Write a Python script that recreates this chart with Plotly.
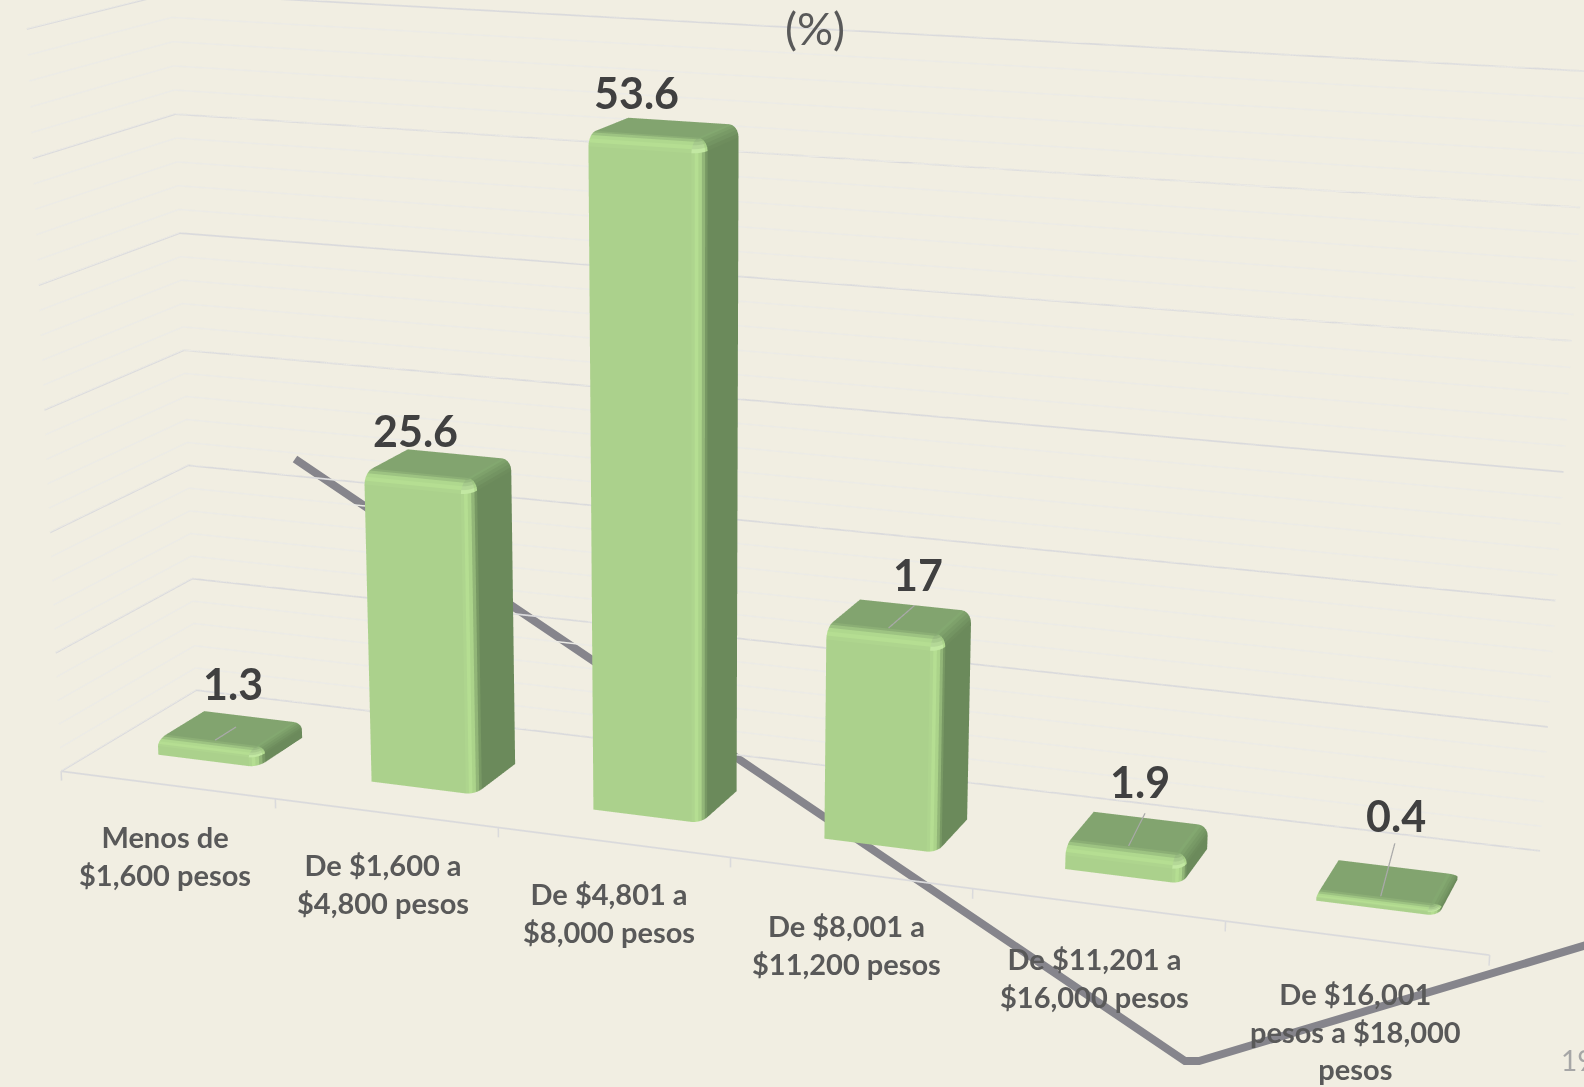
import math
import plotly.graph_objects as go

categories = ["Menos de<br>$1,600 pesos", "De $1,600 a<br>$4,800 pesos", "De $4,801 a<br>$8,000 pesos",
              "De $8,001 a<br>$11,200 pesos", "De $11,201 a<br>$16,000 pesos", "De $16,001<br>pesos a $18,000<br>pesos"]
values = [1.3, 25.6, 53.6, 17, 1.9, 0.4]
value_labels = ["1.3", "25.6", "53.6", "17", "1.9", "0.4"]
major_ticks = [0, 10, 20, 30, 40, 50, 60]
category_edges = [0, 1, 2, 3, 4, 5, 6]
label_xshift = [30, 3, -4, 39, 20, 23]
label_yshift = [63, 48, 45, 60, 72, 88]
cat_xshift = [-2, -3, -4, -4, -3, -1]
cat_yshift = [-32, -32, -32, -33, -34, -36]
leader_rise = [0.0, None, None, 0.0, 1.0, 2.5]
leader_end = [0.5, None, None, 0.62, 0.55, 0.55]
rule_x = [295, 1185, 1199, 1600]
rule_y = [459, 1061, 1061, 941]

BG = "#F1EEE2"
FRONT, HI, BRIGHT, SIDE, TOP, MID = "#ABD18C", "#B8E294", "#C9EFA8", "#6B8A5B", "#82A46F", "#86AB72"
MAJOR = "#DADADC"
MINOR = "#ECEBE6"
TXT = "#595959"
W, H, SHIFT = 1584, 3193, 1053
BAR_W, BAR_OFF, Y0, Y1 = 0.47, 0.012, 0.28, 0.63
BANDS = 5

fig = go.Figure()


def mix(c1, c2, t):
    a = [int(c1[i:i + 2], 16) for i in (1, 3, 5)]
    b = [int(c2[i:i + 2], 16) for i in (1, 3, 5)]
    return "#%02X%02X%02X" % tuple(round(a[n] + (b[n] - a[n]) * t) for n in range(3))


def ramp(c1, c2, c3, t):
    return mix(c1, c2, t / 0.4) if t < 0.4 else mix(c2, c3, (t - 0.4) / 0.6)


def bar_trace(i, v):
    x0, x1 = i + 0.5 + BAR_OFF - BAR_W / 2, i + 0.5 + BAR_OFF + BAR_W / 2
    cx, cy, cz = 0.04, 0.06, min(0.95, v * 0.42)
    xa, ya, zt = x1 - cx, Y0 + cy, v - cz
    polys = [
        ([(x0, Y0, 0), (xa, Y0, 0), (xa, Y0, zt), (x0, Y0, zt)], FRONT),
        ([(x0, ya, v), (xa, ya, v), (xa, Y1, v), (x0, Y1, v)], TOP),
        ([(x1, ya, 0), (x1, Y1, 0), (x1, Y1, zt), (x1, ya, zt)], SIDE),
    ]
    for n in range(BANDS):
        a0, a1 = n / BANDS * math.pi / 2, (n + 1) / BANDS * math.pi / 2
        t = (n + 0.5) / BANDS
        c0, s0, c1, s1 = math.cos(a0), math.sin(a0), math.cos(a1), math.sin(a1)
        # front to top rounded edge
        polys.append(([(x0, ya - cy * c0, zt + cz * s0), (xa, ya - cy * c0, zt + cz * s0),
                       (xa, ya - cy * c1, zt + cz * s1), (x0, ya - cy * c1, zt + cz * s1)], ramp(FRONT, HI, TOP, t)))
        # front to side rounded edge
        polys.append(([(xa + cx * s0, ya - cy * c0, 0), (xa + cx * s1, ya - cy * c1, 0),
                       (xa + cx * s1, ya - cy * c1, zt), (xa + cx * s0, ya - cy * c0, zt)], ramp(FRONT, HI, SIDE, t)))
        # side to top rounded edge
        polys.append(([(xa + cx * c0, ya, zt + cz * s0), (xa + cx * c0, Y1, zt + cz * s0),
                       (xa + cx * c1, Y1, zt + cz * s1), (xa + cx * c1, ya, zt + cz * s1)], mix(SIDE, MID, t)))
        # rounded corner
        for m in range(BANDS):
            b0, b1 = m / BANDS * math.pi / 2, (m + 1) / BANDS * math.pi / 2
            pts = []
            for (p, q) in ((a0, b0), (a1, b0), (a1, b1), (a0, b1)):
                u, vv, w = math.cos(p) * math.sin(q), math.cos(p) * math.cos(q), math.sin(p)
                pts.append((xa + cx * u, ya - cy * vv, zt + cz * w))
            polys.append((pts, mix(BRIGHT, TOP, t) if m < BANDS - 1 else mix(HI, MID, t)))
    xs, ys, zs, ii, jj, kk, fc = [], [], [], [], [], [], []
    for pts, col in polys:
        n = len(xs)
        for p in pts:
            xs.append(p[0]); ys.append(p[1]); zs.append(p[2])
        for m in range(1, len(pts) - 1):
            ii.append(n); jj.append(n + m); kk.append(n + m + 1); fc.append(col)
    return go.Mesh3d(x=xs, y=ys, z=zs, i=ii, j=jj, k=kk, facecolor=fc, flatshading=True,
                     lighting=dict(ambient=1, diffuse=0, specular=0, fresnel=0, roughness=1),
                     hoverinfo="skip", showscale=False)


# decorative slide rule, sits behind the chart
fig.add_trace(go.Scatter(x=rule_x, y=rule_y, mode="lines", line=dict(color="#86858C", width=8),
                         hoverinfo="skip", xaxis="x", yaxis="y"))

# major gridlines on the left and back walls
for z in major_ticks:
    fig.add_trace(go.Scatter3d(x=[0, 0, 6], y=[0, 1, 1], z=[z, z, z], mode="lines",
                               line=dict(color=MAJOR, width=3.5), hoverinfo="skip"))
fig.add_trace(go.Scatter3d(x=[0, 6], y=[0, 0], z=[0, 0], mode="lines",
                           line=dict(color=MAJOR, width=3.5), hoverinfo="skip"))
for e in category_edges:
    fig.add_trace(go.Scatter3d(x=[e, e], y=[0, 0], z=[0, -0.8], mode="lines",
                               line=dict(color=MAJOR, width=3), hoverinfo="skip"))

for i, v in enumerate(values):
    fig.add_trace(bar_trace(i, v))

for i, rise in enumerate(leader_rise):
    if rise is None:
        continue
    v = values[i]
    fig.add_trace(go.Scatter3d(x=[i + 0.5 + BAR_OFF] * 2, y=[Y0 + 0.06, leader_end[i]],
                               z=[v + 0.05, v + 0.05 + rise],
                               mode="lines", line=dict(color="#A9A9A9", width=2.5), hoverinfo="skip"))

ann3d = []
for i, (c, v) in enumerate(zip(categories, values)):
    ann3d.append(dict(x=i + 0.5, y=0, z=0, text="<b>%s</b>" % c, showarrow=False, xanchor="center", yanchor="top",
                      xshift=cat_xshift[i], yshift=cat_yshift[i], font=dict(family="Lato", size=29, color=TXT)))
    ann3d.append(dict(x=i + 0.5, y=0.27, z=v, text="<b>%s</b>" % value_labels[i], showarrow=False,
                      xanchor="center", yanchor="middle", xshift=label_xshift[i], yshift=label_yshift[i],
                      font=dict(family="Lato", size=43, color="#404040")))

axis_off = dict(showbackground=False, showgrid=False, zeroline=False, showline=False,
                showticklabels=False, ticks="", title="", showspikes=False)

fig.update_layout(
    width=W, height=H, margin=dict(l=0, r=0, t=0, b=0, pad=0), paper_bgcolor=BG, plot_bgcolor="rgba(0,0,0,0)",
    showlegend=False,
    xaxis=dict(visible=False, range=[0, W], domain=[0, 1], fixedrange=True),
    yaxis=dict(visible=False, range=[H - SHIFT, -SHIFT], domain=[0, 1], fixedrange=True),
    scene=dict(
        domain=dict(x=[0, 1], y=[0, 1]), bgcolor="rgba(0,0,0,0)",
        aspectmode="manual", aspectratio=dict(x=1, y=0.2, z=0.53331),
        xaxis=dict(axis_off, range=[0, 6]),
        yaxis=dict(axis_off, range=[0, 1]),
        zaxis=dict(axis_off, range=[-1, 60.5], showgrid=True, dtick=2, tick0=0, gridcolor=MINOR, gridwidth=3),
        camera=dict(eye=dict(x=0.8287, y=-2.3457, z=0.61947), center=dict(x=0.0117, y=-0.0153, z=-0.06403),
                    up=dict(x=-0.0948, y=0.2495, z=0.964), projection=dict(type="perspective")),
        annotations=ann3d,
    ),
    annotations=[
        dict(xref="x", yref="y", x=815, y=28, text="(%)", showarrow=False, xanchor="center", yanchor="middle",
             font=dict(family="Lato", size=45, color=TXT)),
        dict(xref="x", yref="y", x=1559, y=1060, text="19", showarrow=False, xanchor="left", yanchor="middle",
             font=dict(family="Lato", size=28, color="#A6A6A6")),
    ],
)

post = """
var gd = document.getElementById('{plot_id}');
document.documentElement.style.overflow = 'hidden';
document.documentElement.style.background = '%s';
document.body.style.margin = '0';
document.body.style.overflow = 'hidden';
gd.style.marginTop = '-%dpx';
""" % (BG, SHIFT)

fig.write_html("out.html", config={"displayModeBar": False}, post_script=post)
